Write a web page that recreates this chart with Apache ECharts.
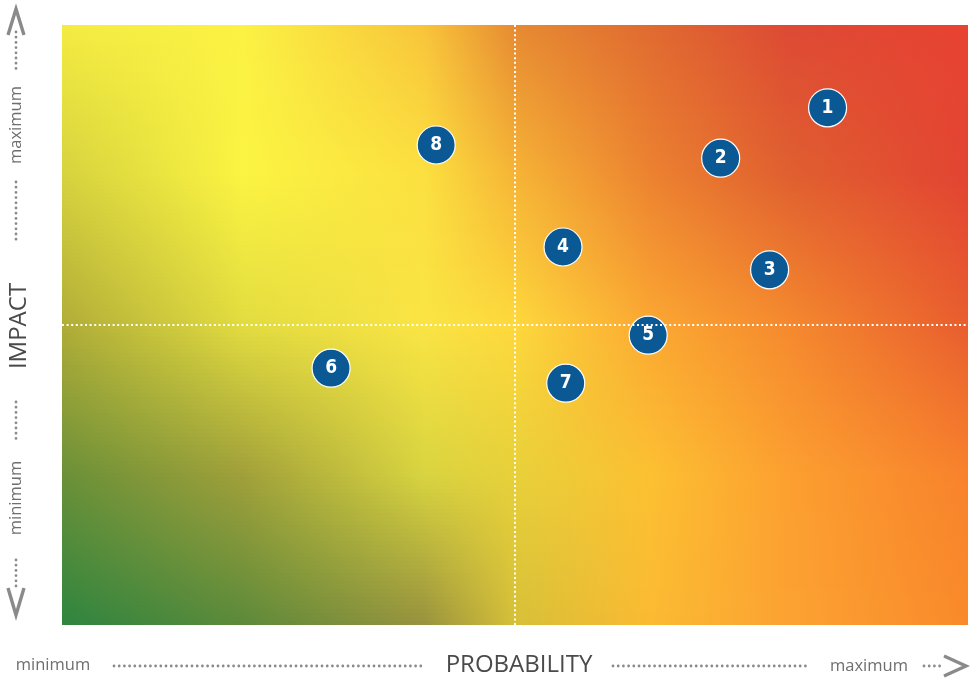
<!DOCTYPE html>
<html>
<head>
<meta charset="utf-8">
<script src="https://cdn.jsdelivr.net/npm/echarts@6/dist/echarts.min.js"></script>
<style>
  html, body { margin: 0; padding: 0; background: #fff; }
  #chart { width: 970px; height: 680px; }
</style>
</head>
<body>
<div id="chart"></div>
<script>
// risk ids and their position on the matrix (0..10 scales)
const riskIds = ["1", "2", "3", "4", "5", "6", "7", "8"];
const probability = [8.45, 7.27, 7.81, 5.53, 6.47, 2.97, 5.56, 4.13];
const impact = [8.62, 7.78, 5.92, 6.30, 4.83, 4.28, 4.03, 8.0];

// axis extents and the quadrant split
const axisMin = 0;
const axisMax = 10;
const splitAt = 5;

// background colour ramps, one per row from top edge to bottom edge
const bgStops = [0, 0.2, 0.4, 0.5, 0.65, 0.8, 1];
const bgRows = [
  ["#f4ec42", "#fbf243", "#f8c43a", "#e68a32", "#e06a30", "#dd4a34", "#e84232"],
  ["#d6d23e", "#fbf442", "#fbe040", "#f6b436", "#ec8230", "#e0602f", "#e24432"],
  ["#b0ac38", "#e2dc40", "#fae444", "#fdd83c", "#fba832", "#f58a2e", "#e85e2e"],
  ["#6a9038", "#a0a03a", "#d8d440", "#e8d03a", "#fcc032", "#fca030", "#f8822c"],
  ["#2e8540", "#5c8a3a", "#98923e", "#d6c038", "#fbba32", "#fca232", "#f98a2a"],
];

const chart = echarts.init(document.getElementById("chart"));

function rowGradient(t) {
  // t = 0 at top, 1 at bottom
  const seg = Math.min(bgRows.length - 2, Math.floor(t * (bgRows.length - 1)));
  const local = t * (bgRows.length - 1) - seg;
  const stops = bgStops.map((offset, i) => ({
    offset,
    color: echarts.color.lerp(local, [bgRows[seg][i], bgRows[seg + 1][i]]),
  }));
  return new echarts.graphic.LinearGradient(0, 0, 1, 0, stops);
}

function renderBackground(params, api) {
  const tl = api.coord([axisMin, axisMax]);
  const br = api.coord([axisMax, axisMin]);
  const w = br[0] - tl[0];
  const h = br[1] - tl[1];
  const n = 150;
  const sh = h / n;
  const children = [];
  for (let i = 0; i < n; i++) {
    children.push({
      type: "rect",
      shape: { x: tl[0], y: tl[1] + i * sh, width: w, height: sh + 1 },
      style: { fill: rowGradient((i + 0.5) / n) },
    });
  }
  return { type: "group", children };
}

const grey = "#8a8a8a";
const labelGrey = "#6e6e6e";
const textFont = "'Open Sans', 'DejaVu Sans', sans-serif";

function dots(x1, y1, x2, y2) {
  return {
    type: "line",
    silent: true,
    shape: { x1, y1, x2, y2 },
    style: { stroke: grey, lineWidth: 2.8, lineDash: [0, 5.2], lineCap: "round" },
  };
}

function chevron(points) {
  return {
    type: "polyline",
    silent: true,
    shape: { points },
    style: { stroke: grey, lineWidth: 3.4, fill: null, lineJoin: "miter" },
  };
}

function label(text, x, y, size, rotate, color) {
  return {
    type: "text",
    silent: true,
    x, y,
    rotation: rotate ? Math.PI / 2 : 0,
    style: {
      text,
      fill: color || labelGrey,
      font: `${size}px ${textFont}`,
      align: "center",
      verticalAlign: "middle",
    },
  };
}

const options = {
  animation: false,
  grid: { left: 62, right: 2, top: 25, bottom: 55 },
  xAxis: { type: "value", min: axisMin, max: axisMax, show: false },
  yAxis: { type: "value", min: axisMin, max: axisMax, show: false },
  graphic: [
    // bottom axis: probability
    label("minimum", 53, 665, 16.5),
    dots(114, 666, 425, 666),
    label("PROBABILITY", 519, 665, 24, false, "#4a4a4a"),
    dots(613, 666, 808, 666),
    label("maximum", 869, 666, 16.5),
    dots(924, 666, 944, 666),
    chevron([[944, 656], [966, 666], [944, 676]]),
    // left axis: impact
    chevron([[8, 35], [16, 9], [24, 35]]),
    dots(16, 32, 16, 70),
    label("maximum", 16, 125, 16.5, true),
    dots(16, 182, 16, 240),
    label("IMPACT", 19, 326, 24, true, "#4a4a4a"),
    dots(16, 402, 16, 442),
    label("minimum", 16, 498, 16.5, true),
    dots(16, 560, 16, 588),
    chevron([[8, 588], [16, 615], [24, 588]]),
  ],
  series: [
    {
      type: "custom",
      silent: true,
      z: 0,
      clip: true,
      renderItem: renderBackground,
      data: [[axisMin, axisMin]],
    },
    {
      type: "line",
      silent: true,
      z: 2,
      data: [],
      markLine: {
        silent: true,
        symbol: "none",
        label: { show: false },
        lineStyle: { color: "#ffffff", type: [2, 2.6], width: 2, opacity: 1 },
        data: [{ xAxis: splitAt }, { yAxis: splitAt }],
      },
    },
    {
      type: "scatter",
      z: 3,
      symbol: "circle",
      symbolSize: 38,
      itemStyle: { color: "#0a5994", borderColor: "#ffffff", borderWidth: 1.2, opacity: 1 },
      label: {
        show: true,
        position: "inside",
        color: "#ffffff",
        fontSize: 19,
        fontWeight: "bold",
        fontFamily: "'DejaVu Sans Condensed', 'Liberation Sans Narrow', 'Roboto', sans-serif",
        formatter: (p) => riskIds[p.dataIndex],
      },
      data: probability.map((x, i) => [x, impact[i]]),
    },
  ],
};

chart.setOption(options);
</script>
</body>
</html>
